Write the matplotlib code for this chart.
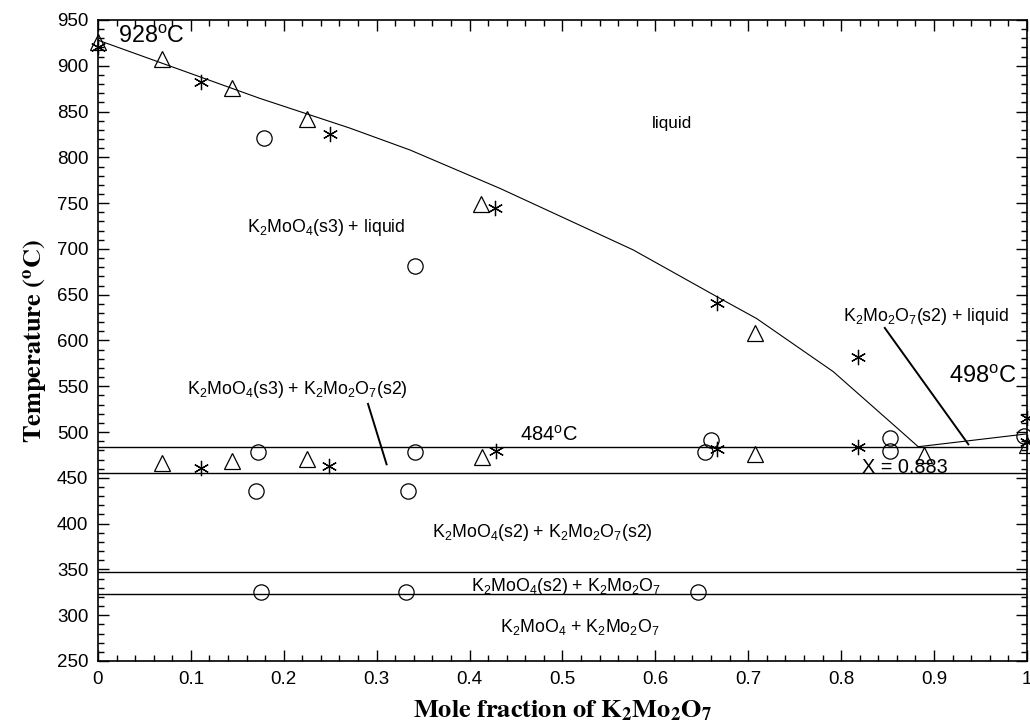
import matplotlib
matplotlib.use("Agg")
import matplotlib.pyplot as plt
from matplotlib.ticker import MultipleLocator, FuncFormatter

plt.rcParams["font.family"] = ["Liberation Sans", "DejaVu Sans"]
plt.rcParams["mathtext.fontset"] = "custom"
plt.rcParams["mathtext.rm"] = "Liberation Sans"
plt.rcParams["mathtext.it"] = "Liberation Sans:italic"
plt.rcParams["mathtext.bf"] = "Liberation Sans:bold"

# Liquidus of K2MoO4 (from pure K2MoO4 down to the eutectic)
liq_x = [0.0, 0.174, 0.271, 0.336, 0.433, 0.576, 0.666, 0.709, 0.7915, 0.863, 0.883]
liq_t = [928, 864.5, 832, 808, 766, 699, 648, 624, 566, 502, 484]
# Liquidus of K2Mo2O7 (eutectic to pure K2Mo2O7)
liq2_x = [0.883, 1.0]
liq2_t = [484, 498]

# Invariant / transition temperatures
iso_t = [484, 455, 347, 323]

# Measured points (three data sets)
tri_x = [0.0, 0.0685, 0.144, 0.2246, 0.4123, 0.707, 0.8895, 1.0,
         0.0685, 0.144, 0.2246, 0.413, 0.707]
tri_t = [926, 907, 876, 841.5, 748.7, 607.8, 475, 486,
         466, 468.4, 470.6, 472.4, 476]
ast_x = [0.0, 0.1105, 0.2497, 0.4273, 0.666, 0.8177, 1.0,
         0.1105, 0.249, 0.428, 0.666, 0.8177, 1.0]
ast_t = [921, 882, 826, 744.4, 641.3, 581.5, 515,
         460.4, 463, 479.7, 481, 483.4, 489.5]
cir_x = [0.1787, 0.341, 0.1726, 0.341, 0.1697, 0.3333, 0.6595, 0.6534,
         0.853, 0.853, 0.997, 0.176, 0.332, 0.646]
cir_t = [821.5, 681.7, 478.6, 477.9, 436, 436, 491.3, 478.6,
         493, 479, 495.7, 325, 325, 325]

x_ticks = [0, 0.1, 0.2, 0.3, 0.4, 0.5, 0.6, 0.7, 0.8, 0.9, 1.0]
y_ticks = list(range(250, 951, 50))

fig = plt.figure(figsize=(10.30, 7.27), dpi=100)
ax = fig.add_axes([0.0951, 0.0908, 0.9019, 0.8817])

ax.plot(liq_x, liq_t, color="black", lw=0.8)
ax.plot(liq2_x, liq2_t, color="black", lw=0.8)
for t in iso_t:
    ax.plot([0, 1], [t, t], color="black", lw=1.0)

ms_kw = dict(linestyle="none", clip_on=False, zorder=5)
ax.plot(tri_x, tri_t, marker="^", ms=11, mfc="none", mec="black", mew=0.9, **ms_kw)
ax.plot(ast_x, ast_t, marker=(6, 2, 0), ms=11, color="black", mew=0.9, **ms_kw)
ax.plot(cir_x, cir_t, marker="o", ms=11, mfc="none", mec="black", mew=0.9, **ms_kw)

# Phase field labels
lab = 12.8
ax.text(0.058, 932, "928$^\\mathrm{o}$C", fontsize=16.8, ha="center", va="center")
ax.text(0.953, 560, "498$^\\mathrm{o}$C", fontsize=17, ha="center", va="center")
ax.text(0.485, 497, "484$^\\mathrm{o}$C", fontsize=14.5, ha="center", va="center")
ax.text(0.869, 461, "X = 0.883", fontsize=14.3, ha="center", va="center")
ax.text(0.618, 837.5, "liquid", fontsize=12.3, ha="center", va="center")
ax.text(0.246, 723, "K$_2$MoO$_4$(s3) + liquid", fontsize=lab, ha="center", va="center")
ax.text(0.891, 626, "K$_2$Mo$_2$O$_7$(s2) + liquid", fontsize=lab, ha="center", va="center")
ax.text(0.215, 546, "K$_2$MoO$_4$(s3) + K$_2$Mo$_2$O$_7$(s2)", fontsize=lab,
        ha="center", va="center")
ax.text(0.479, 390, "K$_2$MoO$_4$(s2) + K$_2$Mo$_2$O$_7$(s2)", fontsize=lab,
        ha="center", va="center")
ax.text(0.5045, 331, "K$_2$MoO$_4$(s2) + K$_2$Mo$_2$O$_7$", fontsize=lab,
        ha="center", va="center")
ax.text(0.519, 287.5, "K$_2$MoO$_4$ + K$_2$Mo$_2$O$_7$", fontsize=lab,
        ha="center", va="center")

# Leader lines
ax.plot([0.847, 0.937], [613.7, 486.6], color="black", lw=1.4)
ax.plot([0.2907, 0.3107], [530.7, 464.8], color="black", lw=1.4)

ax.set_xlim(0, 1)
ax.set_ylim(250, 950)
ax.set_xticks(x_ticks)
ax.set_yticks(y_ticks)
ax.xaxis.set_minor_locator(MultipleLocator(0.02))
ax.yaxis.set_minor_locator(MultipleLocator(10))
ax.xaxis.set_major_formatter(FuncFormatter(lambda v, p: "%g" % round(v, 2)))
ax.tick_params(which="both", direction="in", top=True, right=True, width=1.0,
               labelsize=13.5)
ax.tick_params(which="major", length=8, pad=7)
ax.tick_params(which="minor", length=4.5)
for s in ax.spines.values():
    s.set_linewidth(1.2)

ax.set_xlabel(r"$\mathbf{Mole\ fraction\ of\ K_2Mo_2O_7}$", fontsize=19,
              math_fontfamily="stix", labelpad=8)
ax.set_ylabel(r"$\mathbf{Temperature\ (^oC)}$", fontsize=19,
              math_fontfamily="stix", labelpad=5)

fig.savefig("out.png", dpi=100)
